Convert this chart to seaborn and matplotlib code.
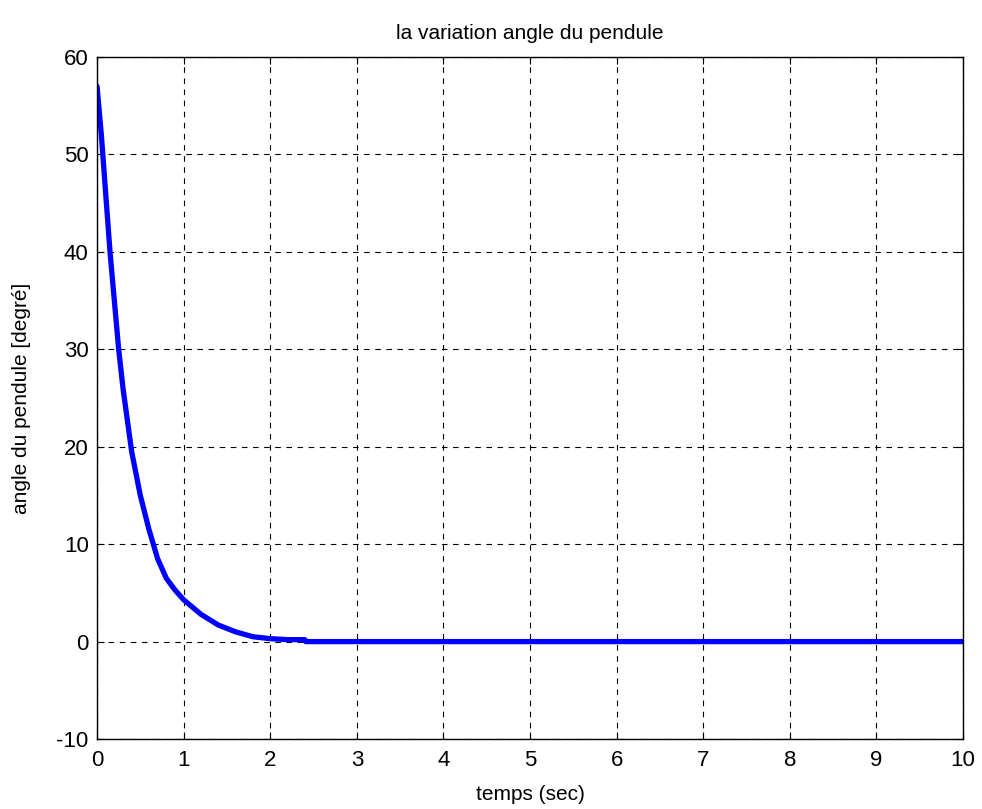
import numpy as np
import pandas as pd
import matplotlib
matplotlib.use('Agg')
import matplotlib.pyplot as plt
import seaborn as sns

# values
temps = [0, 0.05, 0.1, 0.15, 0.2, 0.25, 0.3, 0.4, 0.5, 0.6, 0.7, 0.8, 0.9, 1.0,
         1.2, 1.4, 1.6, 1.8, 2.0, 2.2, 2.4, 2.41, 10]
angle = [57, 52, 46, 40, 35, 30, 26, 19.5, 15, 11.5, 8.5, 6.5, 5.3, 4.3,
         2.8, 1.7, 1.0, 0.5, 0.3, 0.2, 0.2, 0, 0]
xticks = list(range(0, 11))
yticks = list(range(-10, 61, 10))

df = pd.DataFrame({'temps': temps, 'angle': angle})

sns.set_style('ticks')
plt.rcParams['font.family'] = ['Liberation Sans', 'DejaVu Sans']
plt.rcParams['axes.unicode_minus'] = False
plt.rcParams['text.color'] = 'black'
plt.rcParams['axes.labelcolor'] = 'black'
plt.rcParams['xtick.color'] = 'black'
plt.rcParams['ytick.color'] = 'black'

fig = plt.figure(figsize=(9.82, 8.09), dpi=100)
ax = fig.add_axes([0.0988, 0.0865, 0.8819, 0.843])
sns.lineplot(data=df, x='temps', y='angle', ax=ax, color='#0000ff', linewidth=3.8)

ax.set_xlim(0, 10); ax.set_ylim(-10, 60)
ax.set_xticks(xticks); ax.set_yticks(yticks)
ax.grid(True, color='black', linestyle=(0, (5, 5)), linewidth=0.8)
ax.tick_params(direction='in', top=True, right=True, labelsize=16, length=5)
ax.tick_params(axis='x', pad=8)
ax.tick_params(axis='y', pad=6)
for s in ax.spines.values():
    s.set_linewidth(1.0)
    s.set_color('black')
ax.set_xlabel('temps (sec)', fontsize=15, labelpad=10)
ax.set_ylabel('angle du pendule [degré]', fontsize=15, labelpad=18)
ax.set_title('la variation angle du pendule', fontsize=15, pad=13)

fig.savefig('out.png', dpi=100)
